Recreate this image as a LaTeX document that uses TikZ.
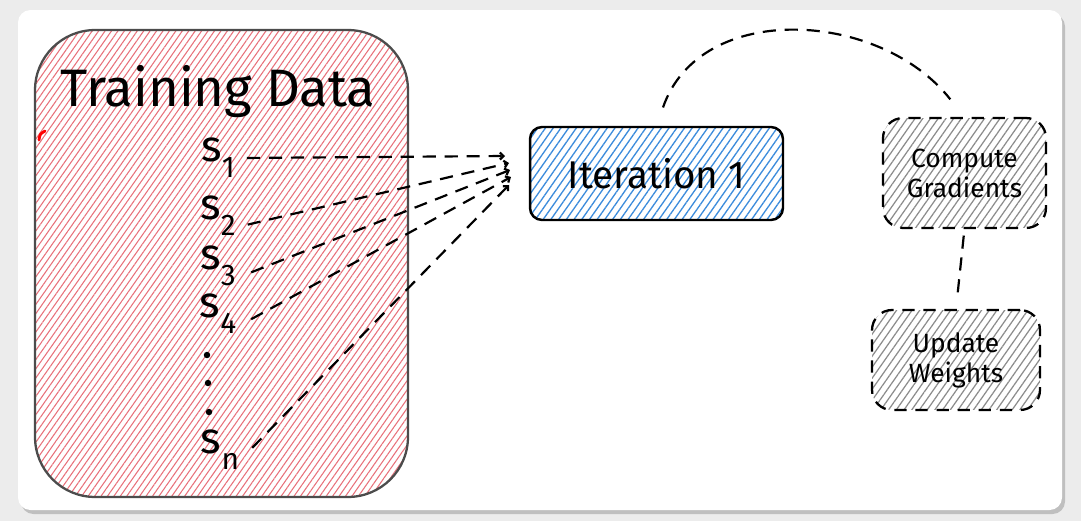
\documentclass[tikz,border=0pt]{standalone}
\usepackage{fontspec}
\setmainfont{Fira Sans}
\usetikzlibrary{patterns.meta,arrows.meta}

\newcommand{\sdata}[1]{s\raisebox{-0.7ex}{\fontsize{17}{17}\selectfont #1}}

\definecolor{hatchred}{RGB}{232,112,122}
\definecolor{hatchblue}{RGB}{60,140,220}
\definecolor{hatchgray}{RGB}{140,140,140}
\definecolor{pagegray}{RGB}{236,236,236}

\begin{document}
\begin{tikzpicture}[x=0.02cm,y=-0.02cm]
\tikzset{
  every node/.style={font=\fontsize{15}{17}\selectfont},
  databox/.style={draw=black!70, line width=1.3pt, rounded corners=1.2cm,
    minimum width=7.46cm, minimum height=9.34cm, inner sep=0pt,
    pattern={Lines[angle=55,distance=3pt,line width=0.6pt]}, pattern color=hatchred},
  iterbox/.style={draw=black, line width=1.4pt, rounded corners=0.24cm,
    minimum width=5.06cm, minimum height=1.86cm, inner sep=0pt,
    pattern={Lines[angle=55,distance=3.6pt,line width=0.75pt]}, pattern color=hatchblue,
    font=\fontsize{22}{24}\selectfont},
  stepbox/.style={draw=black, line width=1.3pt, dash pattern=on 7pt off 5pt,
    rounded corners=0.4cm, inner sep=0pt, align=center,
    pattern={Lines[angle=55,distance=3.6pt,line width=0.7pt]}, pattern color=hatchgray},
  conn/.style={line width=1.25pt, dash pattern=on 7.5pt off 5pt},
  tip/.style={-{Straight Barb[length=2pt,width=4pt]}},
  sample/.style={font=\fontsize{25}{25}\selectfont},
}

% Page and card
\fill[pagegray] (0,0) rectangle (1081,521);
\fill[black!25, rounded corners=0.25cm] (21,14) rectangle (1065,514);
\fill[white, rounded corners=0.25cm] (18,10) rectangle (1062,510);
\useasboundingbox (0,0) rectangle (1081,521);

% Training data box
\node[databox] (data) at (221.5,263.5) {};
\node[font=\fontsize{30}{34}\selectfont] (title) at (218,92) {Training Data};
\draw[red, line width=1.6pt, line cap=round] (39,140) .. controls (40,134) .. (45,131);

% Samples
\node[sample] (s1) at (218,158) {\sdata{1}};
\node[sample] (s2) at (218,216) {\sdata{2}};
\node[sample] (s3) at (218,266) {\sdata{3}};
\node[sample] (s4) at (218,314) {\sdata{4}};
\node[sample] (sn) at (220,450) {\sdata{n}};
\node[circle, fill, inner sep=1.3pt] (d1) at (207,355) {};
\node[circle, fill, inner sep=1.3pt] (d2) at (208,383) {};
\node[circle, fill, inner sep=1.3pt] (d3) at (209,412) {};

% Iteration and steps
\node[iterbox] (iter) at (656.5,173.5) {Iteration 1};
\node[stepbox, minimum width=3.26cm, minimum height=2.2cm] (grad) at (964.5,173) {Compute\\Gradients};
\node[stepbox, minimum width=3.36cm, minimum height=2.0cm] (upd) at (956,360) {Update\\Weights};

% Ends of the sample lines
\coordinate (in1) at (505,156);
\coordinate (in2) at (509,163);
\coordinate (in3) at (510,170);
\coordinate (in4) at (511,177);
\coordinate (in5) at (509,185);

% Lines from samples
\draw[conn, tip, shorten <=0.12cm] (s1.east) -- (in1);
\draw[conn, tip, shorten <=0.12cm] ([yshift=-0.2cm]s2.east) -- (in2);
\draw[conn, tip, shorten <=0.2cm] ([yshift=-0.2cm]s3.east) -- (in3);
\draw[conn, tip, shorten <=0.2cm] ([yshift=-0.2cm]s4.east) -- (in4);
\draw[conn, tip, shorten <=0.2cm] ([yshift=-0.1cm]sn.east) -- (in5);

% Loop between iteration and steps
\draw[conn, shorten <=0.4cm, shorten >=0.46cm] (iter.north) .. controls (700,0) and (880,10) .. (grad.north);
\draw[conn, shorten <=0.14cm, shorten >=0.3cm] (grad.south) -- (upd.north);
\end{tikzpicture}
\end{document}
